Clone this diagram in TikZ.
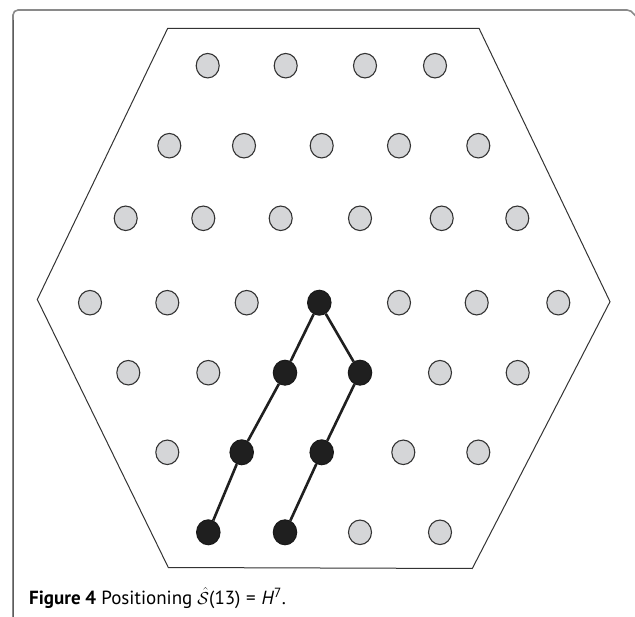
\documentclass[tikz,border=0pt]{standalone}
\usepackage{fontspec}
\setmainfont{PT Sans}
\usetikzlibrary{shapes.geometric}
\definecolor{dotgray}{HTML}{D5D6D8}
\definecolor{edgegray}{HTML}{333333}
\definecolor{framegray}{HTML}{8A8A8A}
\tikzset{
  pt/.style={ellipse, draw=edgegray, line width=1.1pt, fill=dotgray, minimum width=23pt, minimum height=24.5pt, inner sep=0pt},
  bk/.style={ellipse, draw=black!90, line width=1pt, fill=black!88, minimum width=23.5pt, minimum height=25pt, inner sep=0pt},
  link/.style={line width=2.6pt, black!88},
  hexline/.style={line width=1pt, edgegray},
}
\begin{document}
\begin{tikzpicture}[x=1pt,y=-1pt]
\useasboundingbox (0,0) rectangle (635,617);
% frame
\draw[framegray, line width=1.6pt, rounded corners=5pt] (13,617) -- (13,10) -- (632,10) -- (634,14);
\draw[edgegray!80, line width=1pt] (13,20) -- (13,617);
% hexagon
\draw[hexline] (167.7,28.3) -- (479,28.3) -- (610,301.7) -- (472.3,568.5) -- (168.3,567.5) -- (37.3,299.5) -- cycle;
% row 1
\node[pt] (a1) at (207.7,65.7) {};
\node[pt] (a2) at (285.7,65.7) {};
\node[pt] (a3) at (365,65.7) {};
\node[pt] (a4) at (435,65.7) {};
% row 2
\node[pt] (b1) at (169.3,145.7) {};
\node[pt] (b2) at (244,145.7) {};
\node[pt] (b3) at (321.7,145.7) {};
\node[pt] (b4) at (399,145.7) {};
\node[pt] (b5) at (478.3,145.7) {};
% row 3
\node[pt] (c1) at (125.7,218.3) {};
\node[pt] (c2) at (203.3,218.3) {};
\node[pt] (c3) at (280.7,218.3) {};
\node[pt] (c4) at (360,218.3) {};
\node[pt] (c5) at (441.7,218.3) {};
\node[pt] (c6) at (517.3,218.3) {};
% row 4
\node[pt] (d1) at (90,302.7) {};
\node[pt] (d2) at (167.3,302.7) {};
\node[pt] (d3) at (246.7,302.7) {};
\node[bk] (d4) at (319.3,302.7) {};
\node[pt] (d5) at (399,302.7) {};
\node[pt] (d6) at (476.7,302.7) {};
\node[pt] (d7) at (558.3,302.7) {};
% row 5
\node[pt] (e1) at (128.3,372.7) {};
\node[pt] (e2) at (208.3,372.7) {};
\node[bk] (e3) at (285,372.7) {};
\node[bk] (e4) at (360,372.7) {};
\node[pt] (e5) at (440,372.7) {};
\node[pt] (e6) at (517.7,372.7) {};
% row 6
\node[pt] (f1) at (167.3,452.3) {};
\node[bk] (f2) at (241.7,452.3) {};
\node[bk] (f3) at (321.7,452.3) {};
\node[pt] (f4) at (403.3,452.3) {};
\node[pt] (f5) at (478.3,452.3) {};
% row 7
\node[bk] (g1) at (208.3,532.3) {};
\node[bk] (g2) at (285,532.3) {};
\node[pt] (g3) at (360,532.3) {};
\node[pt] (g4) at (440,532.3) {};
% links
\draw[link] (d4) -- (e3) -- (f2) -- (g1);
\draw[link] (d4) -- (e4) -- (f3) -- (g2);
% caption
\node[anchor=base west, inner sep=0pt, font=\fontsize{19}{22}\selectfont] (cap) at (29,604)
  {\textbf{Figure 4} Positioning $\hat{\mathcal{S}}$(13)\hspace{0.3em}=\hspace{0.3em}\textit{H}\textsuperscript{7}.};
\end{tikzpicture}
\end{document}
